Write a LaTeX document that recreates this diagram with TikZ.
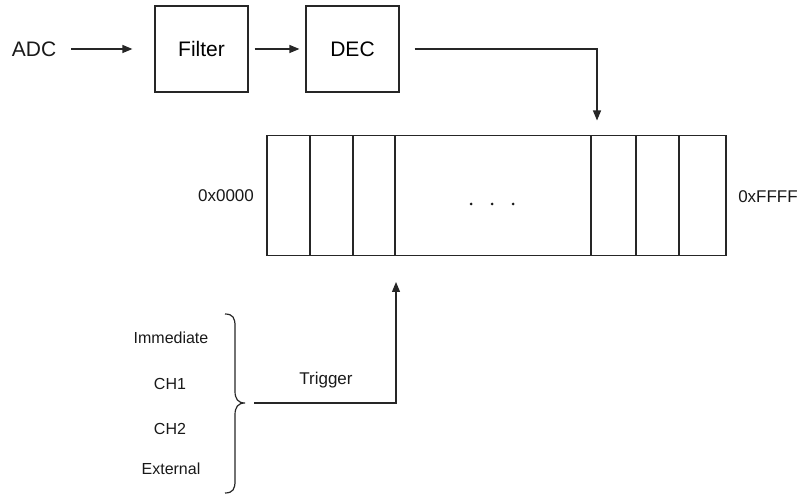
\documentclass[tikz,border=0pt]{standalone}
\usepackage{fontspec}
\setmainfont{Liberation Sans}
\usetikzlibrary{arrows.meta}
\begin{document}
\begin{tikzpicture}[x=1pt,y=-1pt,
  ln/.style={line width=1.2pt, draw=black!85},
  arr/.style={ln, -{Triangle[length=10pt,width=8pt]}},
  blk/.style={ln, rectangle, minimum width=93pt, minimum height=86pt, inner sep=0pt,
              font=\fontsize{21}{25}\selectfont},
  big/.style={inner sep=0pt, font=\fontsize{21}{25}\selectfont, text=black!90},
  mid/.style={inner sep=0pt, font=\fontsize{17}{20}\selectfont, text=black!90},
  sml/.style={inner sep=0pt, font=\fontsize{16}{19}\selectfont, text=black!90}]
\useasboundingbox (0,0) rectangle (801,494);

% top chain
\node[big] (adc) at (34,49) {ADC};
\node[blk] (filter) at (201.5,49) {Filter};
\node[blk] (dec) at (352.5,49) {DEC};
\draw[arr, shorten <=15pt, shorten >=22pt] (adc.east) -- (filter.west);
\draw[arr, shorten <=6pt, shorten >=6pt] (filter.east) -- (dec.west);

% buffer
\node[ln, rectangle, minimum width=459pt, minimum height=119.5pt, inner sep=0pt] (buf) at (496.5,195.5) {};
\foreach \xx in {310,353,395,591,636,679}
  \draw[ln] (\xx,135.5) -- (\xx,255);
\foreach \xx in {471,492,513}
  \fill[black!90] (\xx,204) circle (1.5pt);
\node[mid] (lo) at (226,196) {0x0000};
\node[mid] (hi) at (768,197) {0xFFFF};

\coordinate (bin) at (597,135.5);
\draw[arr, shorten <=15pt, shorten >=15pt] (dec.east) -| (bin);

% trigger sources
\node[sml] (imm) at (171,338) {Immediate};
\node[sml] (ch1) at (170,384) {CH1};
\node[sml] (ch2) at (170,429) {CH2};
\node[sml] (ext) at (171,469) {External};

\draw[ln] (225,314) .. controls (233,314) and (235,318) .. (235,326)
  -- (235,391) .. controls (235,399) and (238,403) .. (245,403)
  .. controls (238,403) and (235,407) .. (235,415)
  -- (235,481) .. controls (235,489) and (233,493) .. (225,493);
\coordinate (brtip) at (245,403);
\coordinate (tin) at (396,255);
\draw[arr, shorten <=9pt, shorten >=27pt] (brtip) -| (tin);
\node[mid] (trig) at (326,380) {Trigger};
\end{tikzpicture}
\end{document}
